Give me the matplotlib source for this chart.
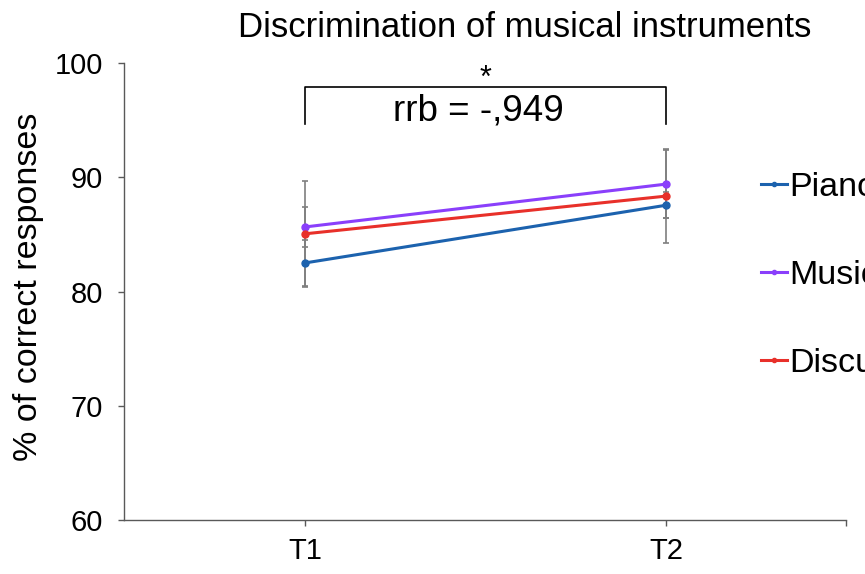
import matplotlib.pyplot as plt

plt.rcParams['font.family'] = ['Liberation Sans', 'DejaVu Sans']

# data
times = ['T1', 'T2']
labels = ['Piano', 'Music', 'Discussion']
piano = [82.5, 87.55]
music = [85.65, 89.4]
discussion = [85.05, 88.35]
piano_err = [2.0, 1.15]
music_err = [1.75, 2.95]
discussion_err = [4.65, 4.1]

colors = ['#1c62ae', '#8a3ffb', '#e8302a']

fig = plt.figure(figsize=(8.65, 5.74), dpi=100)
ax = fig.add_axes([0.1439, 0.0941, 0.8347, 0.7961])

x = [1, 2]
series = [(piano, piano_err), (music, music_err), (discussion, discussion_err)]
handles = []
for (vals, errs), lab, col in zip(series, labels, colors):
    ax.errorbar(x, vals, yerr=errs, fmt='none', ecolor='#7f7f7f',
                elinewidth=1.2, capsize=2, capthick=1.2, zorder=2)
    line, = ax.plot(x, vals, color=col, marker='o', markersize=5,
                    linewidth=2.2, label=lab, zorder=3)
    handles.append(line)

ax.set_xlim(0.5, 2.5)
ax.set_ylim(60, 100)
ax.set_yticks([60, 70, 80, 90, 100])
ax.set_xticks([1, 2, 2.5])
ax.set_xticklabels(times + [''])
ax.tick_params(axis='both', direction='out', length=4.5, width=1,
               color='#595959', labelsize=21)
ax.tick_params(axis='y', pad=11)
ax.tick_params(axis='x', pad=8)
for s in ['top', 'right']:
    ax.spines[s].set_visible(False)
for s in ['left', 'bottom']:
    ax.spines[s].set_color('#595959')
    ax.spines[s].set_linewidth(1)

fig.text(0.0335, 0.5, '% of correct responses', rotation=90, ha='center',
         va='center', fontsize=24.5)
fig.text(0.607, 1 - 37 / 574, 'Discrimination of musical instruments',
         ha='center', va='baseline', fontsize=25)

# significance bracket
ax.plot([1, 1, 2, 2], [94.7, 97.9, 97.9, 94.7], color='black', linewidth=1.2,
        clip_on=False)
ax.text(1.5, 97.95, '*', ha='center', va='baseline', fontsize=22)
ax.text(1.479, 94.95, 'rrb = -,949', ha='center', va='baseline', fontsize=26.5)

fig.legend(handles=handles, labels=labels, loc='upper left',
           bbox_to_anchor=(761 / 865, 1 - 172 / 574),
           bbox_transform=fig.transFigure, frameon=False, fontsize=24.5,
           labelspacing=1.68, handlelength=0.75, handletextpad=0.08,
           borderpad=0, borderaxespad=0, markerscale=0.6)

fig.savefig('out.png', dpi=100)
